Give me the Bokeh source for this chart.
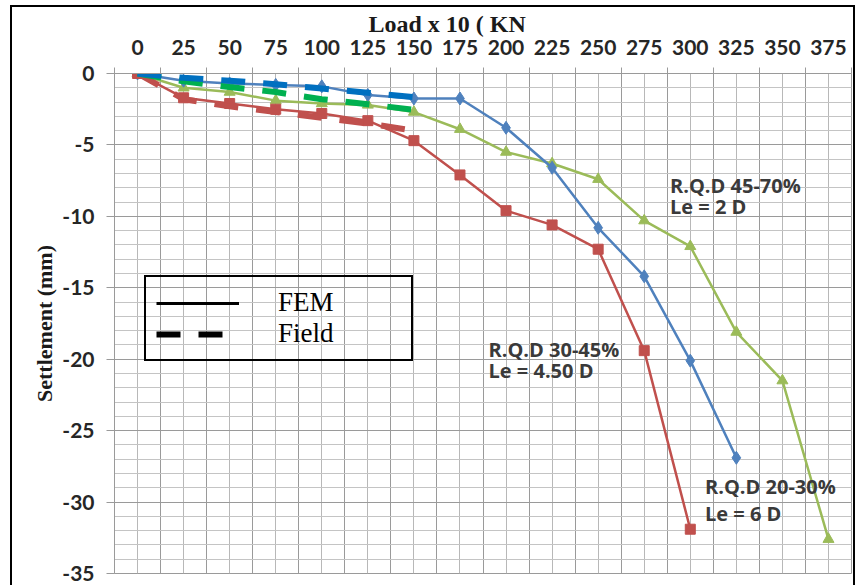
import numpy as np
from bokeh.plotting import figure
from bokeh.models import (FixedTicker, SingleIntervalTicker, Range1d, Legend, LegendItem, Label)
from bokeh.embed import file_html
from bokeh.resources import INLINE

# ---------------- data ----------------
loads = [0, 25, 50, 75, 100, 125, 150, 175, 200, 225, 250, 275, 300, 325, 350, 375]

fem_blue = [0, -0.5, -0.7, -0.8, -0.9, -1.5, -1.75, -1.75, -3.8, -6.6, -10.8, -14.2, -20.1, -26.9]
fem_red = [0, -1.7, -2.1, -2.5, -2.8, -3.3, -4.7, -7.1, -9.6, -10.6, -12.3, -19.4, -31.9]
fem_green = [0, -1.0, -1.3, -1.9, -2.1, -2.2, -2.7, -3.9, -5.5, -6.3, -7.4, -10.3, -12.1, -18.1, -21.5, -32.6]

field_loads = [0, 25, 50, 75, 100, 125, 150]
field_blue = [0, -0.3, -0.5, -0.75, -1.05, -1.35, -1.65]
field_green = [0, -0.55, -0.95, -1.3, -1.8, -2.15, -2.55]
field_red = [0, -1.8, -2.3, -2.7, -3.1, -3.5, -4.0]

y_ticks = [0, -5, -10, -15, -20, -25, -30, -35]

# ---------------- figure ----------------
step = loads[1] - loads[0]
half = step / 2.0
boundaries = list(np.arange(loads[0] - half, loads[-1] + step, step))

# figure placed at (12, 7) inside a 2px black border (open at the bottom, as in the source)
p = figure(width=845, height=580, output_backend="svg", toolbar_location=None,
           x_axis_location="above",
           x_range=Range1d(loads[0] - half, loads[-1] + half),
           y_range=Range1d(min(y_ticks), max(y_ticks)),
           min_border_left=102, min_border_right=6, min_border_top=66, min_border_bottom=14)
p.styles = {"margin-left": "10px", "margin-top": "5px",
            "border-left": "2px solid black", "border-top": "2px solid black",
            "border-right": "2px solid black"}
p.background_fill_color = "white"
p.border_fill_color = "white"
p.outline_line_color = "#9a9a9a"

p.title.text = "Load  x 10 ( KN"
p.title.align = "left"
p.title.offset = 254
p.title.standoff = 0
p.title.text_font = "Liberation Serif"
p.title.text_font_style = "bold"
p.title.text_font_size = "24px"
p.title.text_color = "#1a1a1a"

TICK_FONT = dict(major_label_text_font="Lato", major_label_text_font_style="bold",
                 major_label_text_font_size="21px", major_label_text_color="#262626")

# x axis (top)
xax = p.xaxis[0]
xax.ticker = FixedTicker(ticks=loads, minor_ticks=boundaries)
xax.major_tick_out = 0
xax.major_tick_in = 0
xax.minor_tick_out = 6
xax.minor_tick_in = 0
xax.minor_tick_line_color = "#9a9a9a"
xax.axis_line_color = "#9a9a9a"
xax.major_label_standoff = 13
for k, v in TICK_FONT.items():
    setattr(xax, k, v)

# y axis
yax = p.yaxis[0]
yax.ticker = FixedTicker(ticks=y_ticks)
yax.major_label_overrides = {t: str(t) for t in y_ticks}
yax.major_tick_out = 8
yax.major_tick_in = 0
yax.major_tick_line_color = "#9a9a9a"
yax.minor_tick_line_color = None
yax.axis_line_color = "#9a9a9a"
yax.major_label_standoff = 12
for k, v in TICK_FONT.items():
    setattr(yax, k, v)
yax.axis_label = "Settlement (mm)"
yax.axis_label_text_font = "Liberation Serif"
yax.axis_label_text_font_style = "bold"
yax.axis_label_text_font_size = "22px"
yax.axis_label_text_color = "#1a1a1a"
yax.axis_label_standoff = 2

# grids
p.xgrid.ticker = FixedTicker(ticks=boundaries, minor_ticks=loads)
p.xgrid.grid_line_color = "#9a9a9a"
p.xgrid.minor_grid_line_color = "#b8b8b8"
p.ygrid.ticker = SingleIntervalTicker(interval=5, num_minor_ticks=5)
p.ygrid.grid_line_color = "#9a9a9a"
p.ygrid.minor_grid_line_color = "#c4c4c4"

# ---------------- series ----------------
BLUE, RED, GREEN = "#4F81BD", "#C0504D", "#9BBB59"

p.line(loads[:len(fem_green)], fem_green, line_color=GREEN, line_width=2.5)
p.scatter(loads[:len(fem_green)], fem_green, marker="triangle", size=11, fill_color=GREEN, line_color=GREEN)
p.line(loads[:len(fem_blue)], fem_blue, line_color=BLUE, line_width=2.5)
p.scatter(loads[:len(fem_blue)], fem_blue, marker="diamond", size=13, fill_color=BLUE, line_color=BLUE)
p.line(loads[:len(fem_red)], fem_red, line_color=RED, line_width=2.5)
p.scatter(loads[:len(fem_red)], fem_red, marker="square", size=10, fill_color=RED, line_color=RED)

p.line(field_loads, field_red, line_color="#C0504D", line_width=6, line_dash="24 18")
p.line(field_loads, field_green, line_color="#00B050", line_width=6, line_dash="24 18")
p.line(field_loads, field_blue, line_color="#0070C0", line_width=6, line_dash="24 18")

# ---------------- annotations ----------------
lab_font = dict(text_font="Open Sans", text_font_style="bold", text_font_size="20px",
                text_color="#3a3a3a", text_align="left", text_baseline="middle")
for x, y, t in [(289, -7.85, "R.Q.D 45-70%"), (289, -9.3, "Le = 2 D"),
                (190.5, -19.3, "R.Q.D 30-45%"), (190.5, -20.8, "Le = 4.50 D"),
                (308, -28.9, "R.Q.D 20-30%"), (308, -30.8, "Le = 6 D")]:
    p.add_layout(Label(x=x, y=y, text=t, **lab_font))

# legend (sample renderers live on a hidden range so only their legend glyphs show)
p.extra_y_ranges = {"hidden": Range1d(1000, 1001)}
r_fem = p.line(field_loads, field_blue, line_color="black", line_width=3, y_range_name="hidden")
r_field = p.line(field_loads, field_blue, line_color="black", line_width=6, line_dash="24 18",
                 y_range_name="hidden")
legend = Legend(items=[LegendItem(label="FEM", renderers=[r_fem]),
                       LegendItem(label="Field", renderers=[r_field])],
                location=(30, 212), margin=0, padding=10, spacing=0,
                glyph_width=83, glyph_height=30, label_width=123, label_height=30,
                label_standoff=39,
                label_text_font="Liberation Serif", label_text_font_size="27px",
                label_text_color="black",
                border_line_color="black", border_line_width=2, border_line_alpha=1.0,
                background_fill_alpha=0)
p.add_layout(legend, "center")

open("out.html", "w").write(file_html(p, INLINE))
